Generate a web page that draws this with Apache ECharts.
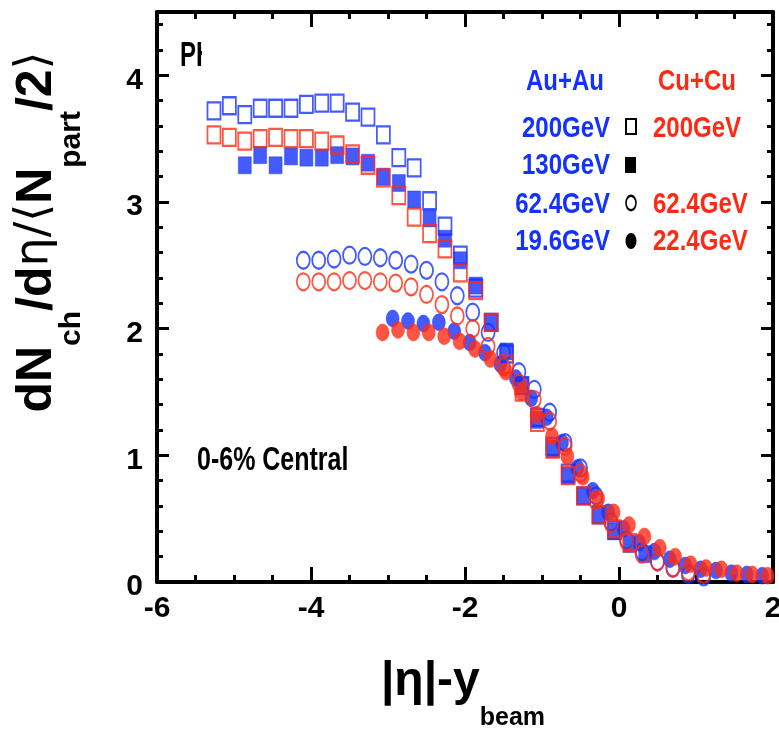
<!DOCTYPE html>
<html><head><meta charset="utf-8">
<script src="https://cdn.jsdelivr.net/npm/echarts@6/dist/echarts.min.js"></script>
<style>html,body{margin:0;padding:0;background:#fff}#c{width:779px;height:735px}</style>
</head><body><div id="c"></div>
<script>
// ---- data ----
const xTicks = [-6, -4, -2, 0, 2];
const yTicks = [0, 1, 2, 3, 4];

const auAu200X = [-5.26,-5.06,-4.86,-4.66,-4.46,-4.26,-4.06,-3.86,-3.66,-3.46,-3.26,-3.06,-2.86,-2.66,-2.46,-2.26,-2.06,-1.86,-1.66,-1.46,-1.26,-1.06,-0.86,-0.66,-0.46,-0.26,-0.06];
const auAu200Y = [3.72,3.76,3.69,3.74,3.74,3.74,3.77,3.78,3.78,3.71,3.67,3.53,3.35,3.27,3.01,2.81,2.58,2.32,2.05,1.80,1.55,1.30,1.07,0.86,0.68,0.53,0.41];

const auAu130X = [-4.86,-4.66,-4.46,-4.26,-4.06,-3.86,-3.66,-3.46,-3.26,-3.06,-2.86,-2.66,-2.46,-2.26,-2.06,-1.86,-1.66,-1.46,-1.26,-1.06,-0.86,-0.66,-0.46,-0.26,-0.06,0.14,0.34];
const auAu130Y = [3.29,3.37,3.29,3.36,3.35,3.35,3.37,3.36,3.31,3.20,3.15,3.02,2.87,2.71,2.54,2.34,2.05,1.82,1.55,1.28,1.05,0.84,0.68,0.53,0.40,0.30,0.22];

const auAu62X = [-4.1,-3.9,-3.7,-3.5,-3.3,-3.1,-2.9,-2.7,-2.5,-2.3,-2.1,-1.9,-1.7,-1.5,-1.3,-1.1,-0.9,-0.7,-0.5,-0.3,-0.1,0.1,0.3,0.5,0.7,0.9,1.1];
const auAu62Y = [2.54,2.54,2.55,2.58,2.57,2.56,2.54,2.51,2.46,2.37,2.26,2.13,1.97,1.81,1.66,1.52,1.34,1.10,0.90,0.68,0.47,0.33,0.24,0.16,0.11,0.06,0.04];

const auAu19X = [-2.94,-2.74,-2.54,-2.34,-2.14,-1.94,-1.74,-1.54,-1.34,-1.14,-0.94,-0.74,-0.54,-0.34,-0.14,0.06,0.26,0.46,0.66,0.86,1.06,1.26,1.46,1.66,1.86,2.06];
const auAu19Y = [2.08,2.06,2.04,2.05,1.98,1.89,1.81,1.72,1.61,1.45,1.30,1.10,0.90,0.72,0.55,0.42,0.31,0.24,0.18,0.13,0.10,0.09,0.07,0.06,0.05,0.04];

const cuCu200X = [-5.26,-5.06,-4.86,-4.66,-4.46,-4.26,-4.06,-3.86,-3.66,-3.46,-3.26,-3.06,-2.86,-2.66,-2.46,-2.26,-2.06,-1.86,-1.66,-1.46,-1.26,-1.06,-0.86,-0.66,-0.46,-0.26,-0.06,0.14];
const cuCu200Y = [3.53,3.51,3.48,3.50,3.51,3.50,3.50,3.48,3.45,3.38,3.29,3.19,3.05,2.88,2.75,2.63,2.44,2.30,2.05,1.72,1.50,1.26,1.05,0.84,0.68,0.53,0.42,0.31];

const cuCu62X = [-4.1,-3.9,-3.7,-3.5,-3.3,-3.1,-2.9,-2.7,-2.5,-2.3,-2.1,-1.9,-1.7,-1.5,-1.3,-1.1,-0.9,-0.7,-0.5,-0.3,-0.1,0.1,0.3,0.5,0.7,0.9,1.1];
const cuCu62Y = [2.37,2.37,2.37,2.38,2.38,2.37,2.36,2.33,2.27,2.19,2.10,2.00,1.86,1.70,1.57,1.44,1.27,1.07,0.86,0.64,0.46,0.32,0.22,0.16,0.11,0.08,0.06];

const cuCu22X = [-3.07,-2.87,-2.67,-2.47,-2.27,-2.07,-1.87,-1.67,-1.47,-1.27,-1.07,-0.87,-0.67,-0.47,-0.27,-0.07,0.13,0.33,0.53,0.73,0.93,1.13,1.33,1.53,1.73,1.93];
const cuCu22Y = [1.97,1.99,1.97,1.97,1.94,1.90,1.84,1.76,1.66,1.50,1.32,1.15,0.99,0.83,0.66,0.55,0.45,0.36,0.27,0.20,0.14,0.11,0.10,0.07,0.06,0.05];

const legendBlue = ['200GeV', '130GeV', '62.4GeV', '19.6GeV'];
const legendRed = ['200GeV', '', '62.4GeV', '22.4GeV'];

// ---- styling ----
const BLUE = '#1432ff';
const RED = '#ff2a14';
const FONT = '"Liberation Sans", Arial, sans-serif';
const zip = (xs, ys) => xs.map((x, i) => [x, ys[i]]);

function ser(name, xs, ys, symbol, color, filled) {
  return {
    type: 'scatter', name, data: zip(xs, ys), symbol, symbolSize: [13, 17],
    clip: true,
    itemStyle: filled ? { color: color, borderColor: color, borderWidth: 0.5 }
                      : { color: 'rgba(0,0,0,0)', borderColor: color, borderWidth: 2 },
    emphasis: { disabled: true }
  };
}

const axisLineStyle = { lineStyle: { color: '#000', width: 4 } };

const option = {
  animation: false,
  backgroundColor: '#fff',
  grid: { left: 157, right: 6, top: 12, bottom: 153, containLabel: false, outerBoundsMode: 'none' },
  xAxis: [
    { type: 'value', min: xTicks[0], max: xTicks[xTicks.length - 1], interval: 2, position: 'bottom',
      axisLine: Object.assign({ show: true, onZero: false }, axisLineStyle),
      axisTick: { show: true, inside: true, length: 15, lineStyle: { color: '#000', width: 3 } },
      minorTick: { show: true, splitNumber: 4, length: 7, lineStyle: { color: '#000', width: 3 } },
      splitLine: { show: false },
      axisLabel: { show: true, margin: 12, color: '#000', fontSize: 30, fontWeight: 'bold', fontFamily: FONT } },
    { type: 'value', min: xTicks[0], max: xTicks[xTicks.length - 1], interval: 2, position: 'top',
      axisLine: Object.assign({ show: true, onZero: false }, axisLineStyle),
      axisTick: { show: true, inside: true, length: 15, lineStyle: { color: '#000', width: 3 } },
      minorTick: { show: true, splitNumber: 4, length: 7, lineStyle: { color: '#000', width: 3 } },
      splitLine: { show: false }, axisLabel: { show: false } }
  ],
  yAxis: [
    { type: 'value', min: 0, max: 4.5, interval: 1, position: 'left',
      axisLine: Object.assign({ show: true, onZero: false }, axisLineStyle),
      axisTick: { show: true, inside: true, length: 12, lineStyle: { color: '#000', width: 3 } },
      minorTick: { show: true, splitNumber: 5, length: 6, lineStyle: { color: '#000', width: 3 } },
      splitLine: { show: false },
      axisLabel: { show: true, margin: 14, color: '#000', fontSize: 30, fontWeight: 'bold', fontFamily: FONT,
        verticalAlign: 'top', lineHeight: 10,
        formatter: v => (yTicks.indexOf(v) >= 0 ? String(v) : '') } },
    { type: 'value', min: 0, max: 4.5, interval: 1, position: 'right',
      axisLine: Object.assign({ show: true, onZero: false }, axisLineStyle),
      axisTick: { show: true, inside: true, length: 12, lineStyle: { color: '#000', width: 3 } },
      minorTick: { show: true, splitNumber: 5, length: 6, lineStyle: { color: '#000', width: 3 } },
      splitLine: { show: false }, axisLabel: { show: false } }
  ],
  series: [
    ser('Au+Au 200GeV', auAu200X, auAu200Y, 'rect', BLUE, false),
    ser('Au+Au 130GeV', auAu130X, auAu130Y, 'rect', BLUE, true),
    ser('Au+Au 62.4GeV', auAu62X, auAu62Y, 'circle', BLUE, false),
    ser('Au+Au 19.6GeV', auAu19X, auAu19Y, 'circle', BLUE, true),
    ser('Cu+Cu 200GeV', cuCu200X, cuCu200Y, 'rect', RED, false),
    ser('Cu+Cu 62.4GeV', cuCu62X, cuCu62Y, 'circle', RED, false),
    ser('Cu+Cu 22.4GeV', cuCu22X, cuCu22Y, 'circle', RED, true)
  ],
  graphic: [
    // experiment tag (partly covered)
    { type: 'text', x: 180, y: 56, scaleY: 1.45, z: 10,
      style: { text: 'PHOBOS Preliminary', font: 'bold 24px ' + FONT, fill: '#000', align: 'left', verticalAlign: 'middle' } },
    { type: 'rect', z: 11, shape: { x: 202, y: 36, width: 300, height: 40 }, style: { fill: '#fff' } },
    // centrality
    { type: 'text', x: 197, y: 461, scaleY: 1.35, z: 10,
      style: { text: '0-6% Central', font: 'bold 25px ' + FONT, fill: '#000', align: 'left', verticalAlign: 'middle' } },
    // legend headers
    { type: 'text', x: 565, y: 82, scaleY: 1.25, z: 12,
      style: { text: 'Au+Au', font: 'bold 24px ' + FONT, fill: BLUE, align: 'center', verticalAlign: 'middle' } },
    { type: 'text', x: 697, y: 82, scaleY: 1.25, z: 12,
      style: { text: 'Cu+Cu', font: 'bold 24px ' + FONT, fill: RED, align: 'center', verticalAlign: 'middle' } },
    ...legendBlue.map((t, i) => ({ type: 'text', x: 610, y: [129, 166, 205, 242][i], scaleY: 1.25, z: 10,
      style: { text: t, font: 'bold 24px ' + FONT, fill: BLUE, align: 'right', verticalAlign: 'middle' } })),
    ...legendRed.map((t, i) => ({ type: 'text', x: 653, y: [129, 166, 205, 242][i], scaleY: 1.25, z: 10,
      style: { text: t, font: 'bold 24px ' + FONT, fill: RED, align: 'left', verticalAlign: 'middle' } })),
    { type: 'rect', z: 10, shape: { x: 626, y: 119, width: 10, height: 15 }, style: { fill: 'none', stroke: '#000', lineWidth: 2 } },
    { type: 'rect', z: 10, shape: { x: 625, y: 157, width: 11, height: 16 }, style: { fill: '#000' } },
    { type: 'circle', z: 10, x: 631, y: 203, scaleY: 1.45, shape: { cx: 0, cy: 0, r: 5 }, style: { fill: 'none', stroke: '#000', lineWidth: 1.6 } },
    { type: 'circle', z: 10, x: 631, y: 241, scaleY: 1.45, shape: { cx: 0, cy: 0, r: 5.5 }, style: { fill: '#000' } },
    // axis titles
    { type: 'text', x: 463, y: 688, z: 10,
      style: { text: '{b||η|-y}{s|beam}', align: 'center', verticalAlign: 'middle', fill: '#000',
        rich: {
          b: { fontSize: 48, fontWeight: 'bold', fontFamily: FONT, lineHeight: 60, verticalAlign: 'top', fill: '#000' },
          s: { fontSize: 25, fontWeight: 'bold', fontFamily: FONT, lineHeight: 26, padding: [48, 0, 0, 0], verticalAlign: 'top', fill: '#000' }
        } } },
    { type: 'text', x: 47, y: 232, rotation: Math.PI / 2, z: 10,
      style: { text: '{b|dN}{s|ch}{b|/d}{g|η/⟨}{b|N}{s|part}{b|/2}{g|⟩}', align: 'center', verticalAlign: 'middle', fill: '#000',
        rich: {
          b: { fontSize: 50, fontWeight: 'bold', fontFamily: FONT, lineHeight: 70, verticalAlign: 'top', fill: '#000' },
          g: { fontSize: 46, fontWeight: 'normal', fontFamily: '"DejaVu Sans", sans-serif', lineHeight: 70, verticalAlign: 'top', fill: '#000' },
          s: { fontSize: 30, fontWeight: 'bold', fontFamily: FONT, lineHeight: 30, padding: [45, 0, 0, 0], verticalAlign: 'top', fill: '#000' }
        } } }
  ]
};

const chart = echarts.init(document.getElementById('c'), null, { renderer: 'canvas' });
chart.setOption(option);
</script>
</body></html>
